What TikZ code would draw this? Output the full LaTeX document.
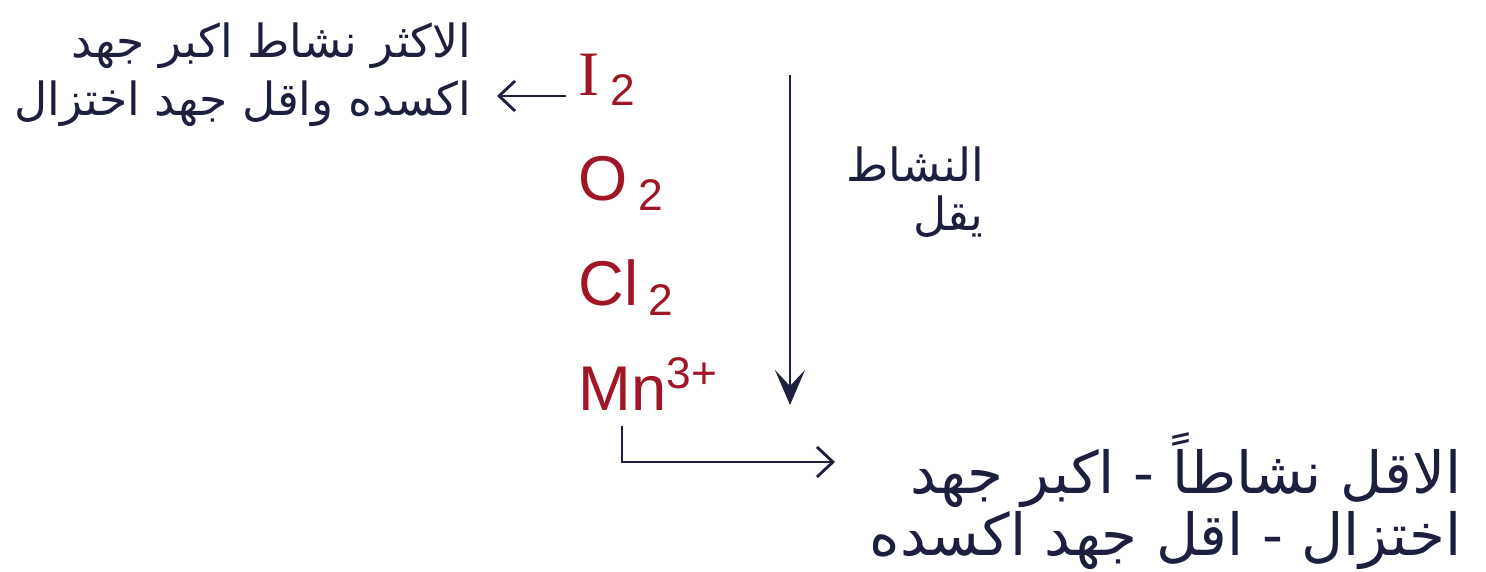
\documentclass[tikz,border=0pt]{standalone}
\usepackage{fontspec}
\setmainfont{Liberation Sans}
\newfontfamily\serifI{Liberation Serif}
\newfontfamily\arabicfont[Script=Arabic]{DejaVu Sans}
\TeXXeTstate=1
\usetikzlibrary{arrows.meta,positioning}
\definecolor{ink}{RGB}{28,32,62}
\definecolor{chem}{RGB}{160,22,38}

\begin{document}
\begin{tikzpicture}[node distance=1.05cm, >=Stealth,
    species/.style={text=chem, font=\fontsize{18}{20}\selectfont, text height=0.48cm, text depth=0.14cm, inner sep=0pt},
    note/.style={text=ink, font=\arabicfont\fontsize{13}{16.5}\selectfont, align=right, inner sep=0pt},
    edge/.style={-{Stealth[length=3.5mm,width=3mm,inset=1.6mm]}, thick, draw=ink},
    barb/.style={-{Straight Barb[length=1.6mm,width=3mm]}, thick, draw=ink}]

\useasboundingbox [fill=white] (0,0) rectangle (14.86,5.72);

% oxidising agents, strongest on top
\node [species, anchor=west] (iod) at (5.78,4.93) {{\serifI I}\,\textsubscript{2}};
\node [species, below=of iod.west, anchor=west] (oxy) {O\,\textsubscript{2}};
\node [species, below=of oxy.west, anchor=west] (chl) {Cl\,\textsubscript{2}};
\node [species, below=of chl.west, anchor=west] (mang) {Mn\textsuperscript{3+}};

\node [note, anchor=north east] (most) at (4.72,5.50)
    {\beginR الاكثر نشاط اكبر جهد\endR\\ \beginR اكسده واقل جهد اختزال\endR};
\node [note, anchor=center, font=\arabicfont\fontsize{13}{14}\selectfont] (trend) at (9.15,3.80)
    {\beginR النشاط\endR\\ \beginR يقل\endR};
\node [note, anchor=north east, font=\arabicfont\fontsize{16.5}{16}\selectfont] (least) at (14.62,1.40)
    {\beginR الاقل نشاطاً - اكبر جهد\endR\\ \beginR اختزال - اقل جهد اكسده\endR};

\coordinate (actTop) at (7.90,4.97);
\coordinate (actBot) at (7.90,1.67);
\coordinate (lessTip) at (8.35,1.10);

\draw [barb, shorten <=1.2mm, shorten >=2.5mm] (iod.base west) -- (iod.base west -| most.east);
\draw [edge] (actTop) -- (actBot);
\draw [barb] ([xshift=4.4mm]mang.south west) |- (lessTip);

\end{tikzpicture}
\end{document}
